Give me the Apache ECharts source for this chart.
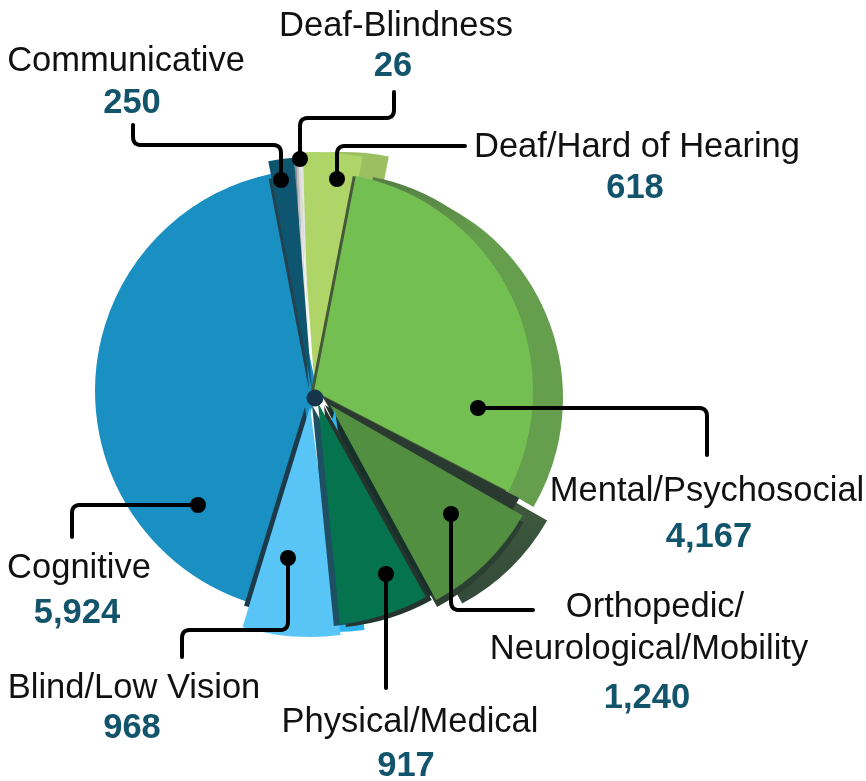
<!DOCTYPE html>
<html><head><meta charset="utf-8">
<script src="https://cdn.jsdelivr.net/npm/echarts@6/dist/echarts.min.js"></script>
<style>html,body{margin:0;padding:0;background:#fff}#c{width:866px;height:781px}</style>
</head><body><div id="c"></div>
<script>
const categories = ['Mental/Psychosocial','Orthopedic/Neurological/Mobility','Physical/Medical','Blind/Low Vision','Cognitive','Communicative','Deaf-Blindness','Deaf/Hard of Hearing'];
const values = [4167,1240,917,968,5924,250,26,618];
const startAngle = 79;

const grad=(a,b,p)=>({type:'linear',x:0,y:0,x2:0,y2:1,colorStops:[{offset:0,color:a},{offset:p,color:b},{offset:1,color:b}]});

// Paint order, back to front: slice index (-1 = all), centre, radius, colour, rotation
const layers = [
  [7,343,392,240,'#9cbf62',0],
  [7,315,392,240,'#afd468',0.5],
  [6,304,385,222,'#8f8f8f',3],
  [6,306,385,223,'#bdbdbd',3],
  [6,308,385,224,'#dcdcdc',3],
  [6,310,385,224,'#e6e6e6',3],
  [4,317,391,222,'#1a8fc1',0],
  [5,309,390,215,'#22424f',1],
  [5,312,390,233,'#0e5570',1],
  [1,358,412,218,grad('#46673f','#34493a',1),2.5],
  [0,347,398,216,'#659e4d',3],
  [0,332,388,215,grad('#557f45','#659e4d',0.2),0],
  [0,311,391,219,'#45593a',0],
  [0,314,391,219,'#74bf52',0],
  [1,322,396,222,'#2a3a30',0],
  [1,331,412,222,'#2c3f33',2.5],
  [1,325,405,218,'#16302a',5],
  [1,330,405,222,'#538f41',2.5],
  [3,335,410,222,'#2fb3ee',0],
  [3,305,407,208,'#1c3a4a',0],
  [3,310,407,230,'#59c5f6',0],
  [2,324,406,222,'#25352e',2],
  [2,312,405,222,'#1f4f62',2],
  [2,318,403,222,'#05734d',2],
  [-1,315,398,8,'#17354a',0]
];

// Label text lines and leader routes
const labelSpecs = [
  [0,['Mental/Psychosocial'],[[707,491]],[709,537]],
  [1,['Orthopedic/','Neurological/Mobility'],[[655,607],[649,649]],[647,698]],
  [2,['Physical/Medical'],[[410,722]],[406,766]],
  [3,['Blind/Low Vision'],[[134,688]],[132,728]],
  [4,['Cognitive'],[[79,568]],[77,613]],
  [5,['Communicative'],[[126,61]],[132,103]],
  [6,['Deaf-Blindness'],[[396,26]],[393,66]],
  [7,['Deaf/Hard of Hearing'],[[637,147]],[635,188]]
];
const leaders = [
  [[478,408],[707,408],[707,455]],
  [[451,514],[451,610],[533,610]],
  [[386,574],[386,688]],
  [[288,558],[288,630],[182,630],[182,657]],
  [[198,505],[72,505],[72,537]],
  [[281,180],[281,145],[133,145],[133,125]],
  [[300,159],[300,118],[394,118],[394,92]],
  [[337,179],[337,146],[465,146]]
];

function roundedPoints(p){
  const r=8, out=[p[0]];
  for(let i=1;i<p.length-1;i++){
    const a=p[i-1],b=p[i],c=p[i+1];
    const ux=Math.sign(b[0]-a[0]),uy=Math.sign(b[1]-a[1]),vx=Math.sign(c[0]-b[0]),vy=Math.sign(c[1]-b[1]);
    const s=[b[0]-ux*r,b[1]-uy*r],e=[b[0]+vx*r,b[1]+vy*r];
    for(let t=0;t<=1.001;t+=0.2){
      out.push([(1-t)*(1-t)*s[0]+2*t*(1-t)*b[0]+t*t*e[0],(1-t)*(1-t)*s[1]+2*t*(1-t)*b[1]+t*t*e[1]]);
    }
  }
  out.push(p[p.length-1]);
  return out;
}

const series = layers.map(([idx,cx,cy,r,color,rot])=>({
  type:'pie',silent:true,animation:false,center:[cx,cy],radius:[0,r],startAngle:startAngle-rot,clockwise:true,
  z:2,label:{show:false},labelLine:{show:false},emphasis:{disabled:true},
  data:values.map((v,i)=>({value:v,name:categories[i],itemStyle:idx<0
    ?{color,borderColor:color,borderWidth:1}
    :{color:i===idx?color:'rgba(0,0,0,0)',borderWidth:0}}))
}));

const graphic=[];
leaders.forEach(p=>{
  graphic.push({type:'polyline',z:50,silent:true,shape:{points:roundedPoints(p)},style:{fill:null,stroke:'#000',lineWidth:4,lineCap:'round',lineJoin:'round'}});
  graphic.push({type:'circle',z:51,silent:true,shape:{cx:p[0][0],cy:p[0][1],r:8},style:{fill:'#000'}});
});
labelSpecs.forEach(([idx,lines,pos,vp])=>{
  lines.forEach((t,i)=>graphic.push({type:'text',z:60,silent:true,x:pos[i][0],y:pos[i][1],
    style:{text:t,font:'34.5px "Liberation Sans"',fill:'#111',align:'center',verticalAlign:'middle'}}));
  graphic.push({type:'text',z:60,silent:true,x:vp[0],y:vp[1],
    style:{text:values[idx].toLocaleString('en-US'),font:'bold 34.5px "Liberation Sans"',fill:'#12546b',align:'center',verticalAlign:'middle'}});
});

echarts.init(document.getElementById('c'),null,{renderer:'canvas'}).setOption({
  animation:false,backgroundColor:'#fff',legend:{show:false},tooltip:{show:false},series,graphic
});
</script></body></html>
